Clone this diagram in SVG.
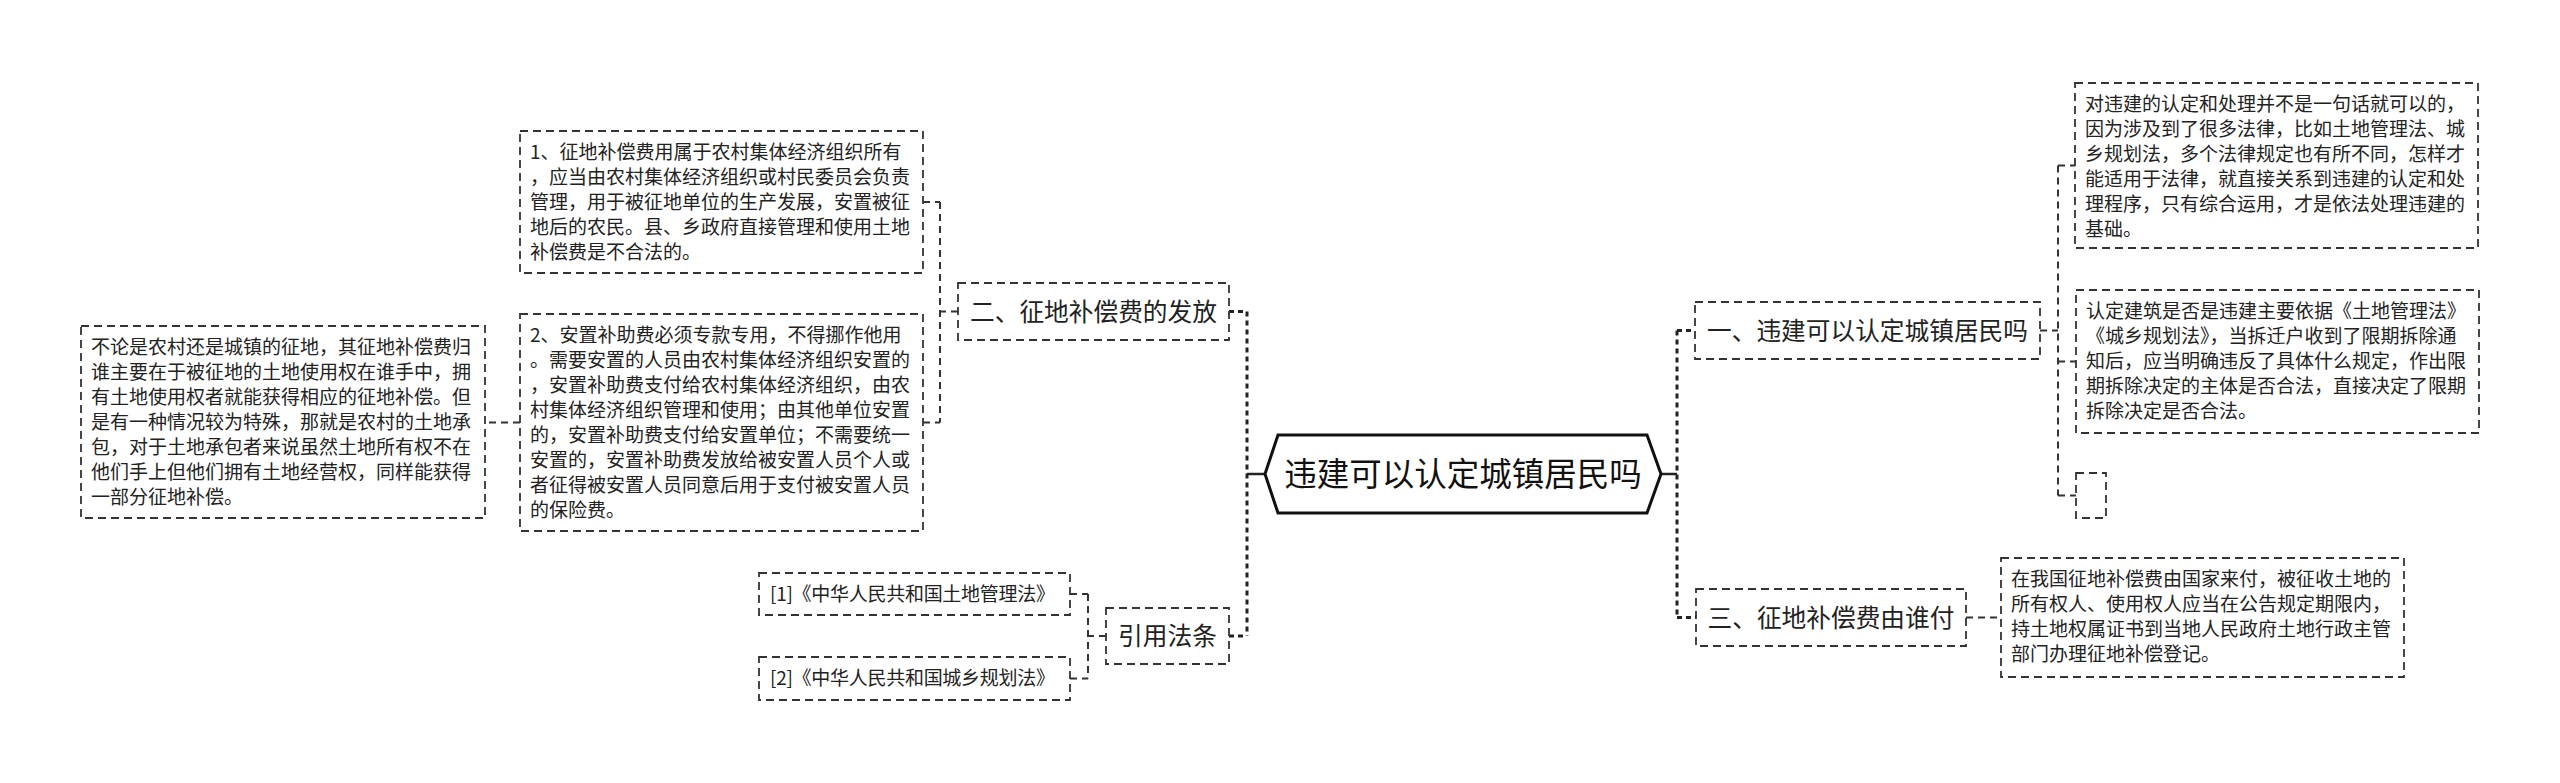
<svg xmlns="http://www.w3.org/2000/svg" width="2560" height="783" viewBox="0 0 2560 783">
<style>
.bg{fill:#ffffff}
.box{fill:#ffffff;stroke:#333;stroke-width:1.8;stroke-dasharray:8 5}
.hex{fill:#ffffff;stroke:#111;stroke-width:3}
.t{font-family:"Noto Sans CJK SC","Noto Sans",sans-serif;font-size:19px;fill:#222}
.m{font-family:"Noto Sans CJK SC","Noto Sans",sans-serif;font-size:24.7px;fill:#222}
.c{font-family:"Noto Sans CJK SC","Noto Sans",sans-serif;font-size:32.5px;fill:#111}
.e1{fill:none;stroke:#222;stroke-width:3;stroke-dasharray:5 4}
.s1{fill:none;stroke:#222;stroke-width:2.5}
.e2{fill:none;stroke:#333;stroke-width:2;stroke-dasharray:7 5}
</style>
<rect class="bg" x="0" y="0" width="2560" height="783"/>
<g id="connectors">
<path class="s1" d="M1265,474 H1247"/>
<path class="e1" d="M1247,311.5 V636 M1229,311.5 H1247 M1229,636 H1247"/>
<path class="s1" d="M1661,474 H1677"/>
<path class="e1" d="M1677,330.5 V617.5 M1677,330.5 H1695 M1677,617.5 H1696"/>
<path class="e2" d="M958,311.5 H940 M940,202 V422.5 M923,202 H940 M923,422.5 H940"/>
<path class="e2" d="M520,422.5 H485"/>
<path class="e2" d="M1106,636 H1088 M1088,594 V678.5 M1070,594 H1088 M1070,678.5 H1088"/>
<path class="e2" d="M2040,330.5 H2058 M2058,165.5 V495.5 M2058,165.5 H2075 M2058,361.5 H2076 M2058,495.5 H2076"/>
<path class="e2" d="M1966,617.5 H2001"/>
</g>
<g id="root">
<polygon class="hex" points="1265,474 1278,435 1647,435 1661,474 1647,513 1278,513"/>
<text class="c" x="1463" y="486" text-anchor="middle">违建可以认定城镇居民吗</text>
</g>
<g id="n2">
<rect class="box" x="958" y="283" width="271" height="57"/>
<text class="m" x="1093.5" y="320.5" text-anchor="middle">二、征地补偿费的发放</text>
</g>
<g id="n2a">
<rect class="box" x="520" y="131" width="403" height="142"/>
<text class="t" x="530" y="159">1、征地补偿费用属于农村集体经济组织所有</text>
<text class="t" x="530" y="184">，应当由农村集体经济组织或村民委员会负责</text>
<text class="t" x="530" y="209">管理，用于被征地单位的生产发展，安置被征</text>
<text class="t" x="530" y="234">地后的农民。县、乡政府直接管理和使用土地</text>
<text class="t" x="530" y="259">补偿费是不合法的。</text>
</g>
<g id="n2b">
<rect class="box" x="520" y="314" width="403" height="217"/>
<text class="t" x="530" y="342">2、安置补助费必须专款专用，不得挪作他用</text>
<text class="t" x="530" y="367">。需要安置的人员由农村集体经济组织安置的</text>
<text class="t" x="530" y="392">，安置补助费支付给农村集体经济组织，由农</text>
<text class="t" x="530" y="417">村集体经济组织管理和使用；由其他单位安置</text>
<text class="t" x="530" y="442">的，安置补助费支付给安置单位；不需要统一</text>
<text class="t" x="530" y="467">安置的，安置补助费发放给被安置人员个人或</text>
<text class="t" x="530" y="492">者征得被安置人员同意后用于支付被安置人员</text>
<text class="t" x="530" y="517">的保险费。</text>
</g>
<g id="n2c">
<rect class="box" x="81" y="326" width="404" height="192"/>
<text class="t" x="91" y="354">不论是农村还是城镇的征地，其征地补偿费归</text>
<text class="t" x="91" y="379">谁主要在于被征地的土地使用权在谁手中，拥</text>
<text class="t" x="91" y="404">有土地使用权者就能获得相应的征地补偿。但</text>
<text class="t" x="91" y="429">是有一种情况较为特殊，那就是农村的土地承</text>
<text class="t" x="91" y="454">包，对于土地承包者来说虽然土地所有权不在</text>
<text class="t" x="91" y="479">他们手上但他们拥有土地经营权，同样能获得</text>
<text class="t" x="91" y="504">一部分征地补偿。</text>
</g>
<g id="n4">
<rect class="box" x="1106" y="608" width="123" height="56"/>
<text class="m" x="1167.5" y="645" text-anchor="middle">引用法条</text>
</g>
<g id="n4a">
<rect class="box" x="759" y="573" width="311" height="42"/>
<text class="t" x="770" y="601" textLength="285" lengthAdjust="spacing">[1]《中华人民共和国土地管理法》</text>
</g>
<g id="n4b">
<rect class="box" x="759" y="657" width="311" height="43"/>
<text class="t" x="770" y="685" textLength="285" lengthAdjust="spacing">[2]《中华人民共和国城乡规划法》</text>
</g>
<g id="n1">
<rect class="box" x="1695" y="302" width="345" height="57"/>
<text class="m" x="1867.5" y="339.5" text-anchor="middle">一、违建可以认定城镇居民吗</text>
</g>
<g id="n1a">
<rect class="box" x="2075" y="83" width="403" height="165"/>
<text class="t" x="2085" y="111">对违建的认定和处理并不是一句话就可以的，</text>
<text class="t" x="2085" y="136">因为涉及到了很多法律，比如土地管理法、城</text>
<text class="t" x="2085" y="161">乡规划法，多个法律规定也有所不同，怎样才</text>
<text class="t" x="2085" y="186">能适用于法律，就直接关系到违建的认定和处</text>
<text class="t" x="2085" y="211">理程序，只有综合运用，才是依法处理违建的</text>
<text class="t" x="2085" y="236">基础。</text>
</g>
<g id="n1b">
<rect class="box" x="2076" y="290" width="403" height="143"/>
<text class="t" x="2086" y="318">认定建筑是否是违建主要依据《土地管理法》</text>
<text class="t" x="2086" y="343">《城乡规划法》，当拆迁户收到了限期拆除通</text>
<text class="t" x="2086" y="368">知后，应当明确违反了具体什么规定，作出限</text>
<text class="t" x="2086" y="393">期拆除决定的主体是否合法，直接决定了限期</text>
<text class="t" x="2086" y="418">拆除决定是否合法。</text>
</g>
<g id="n1c">
<rect class="box" x="2076" y="473" width="30" height="45"/>
</g>
<g id="n3">
<rect class="box" x="1696" y="589" width="270" height="57"/>
<text class="m" x="1831" y="626.5" text-anchor="middle">三、征地补偿费由谁付</text>
</g>
<g id="n3a">
<rect class="box" x="2001" y="558" width="403" height="119"/>
<text class="t" x="2011" y="586">在我国征地补偿费由国家来付，被征收土地的</text>
<text class="t" x="2011" y="611">所有权人、使用权人应当在公告规定期限内，</text>
<text class="t" x="2011" y="636">持土地权属证书到当地人民政府土地行政主管</text>
<text class="t" x="2011" y="661">部门办理征地补偿登记。</text>
</g>
</svg>
